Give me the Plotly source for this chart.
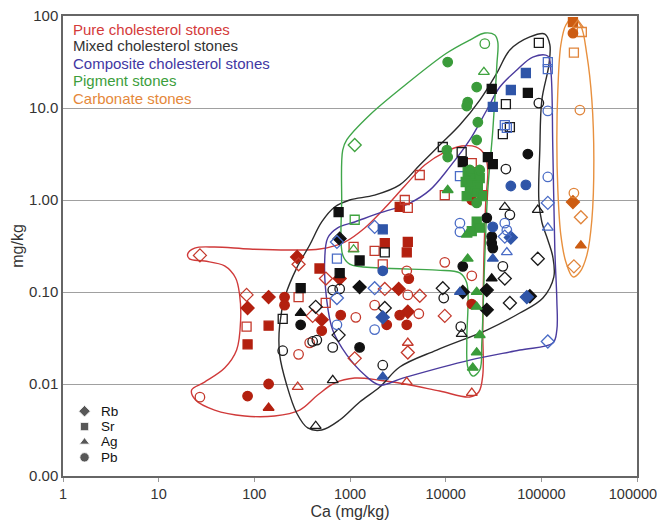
import plotly.graph_objects as go

# ---------------- data ----------------
# Pure cholesterol stones (red)
pure_ca = [27, 280, 290, 1090, 1810, 480, 780, 560, 83, 141, 207, 207, 290, 85, 83, 141, 407, 557, 506, 800,
           1150, 1810, 506, 85, 290, 1120, 379, 141, 284, 27, 85, 141, 5360, 9790, 3740, 4020, 3310, 18750, 18750, 24430,
           2310, 4020, 3920, 2200, 3920, 4115, 2310, 3230, 4020, 5360, 3310, 4020, 3920, 2420, 5240, 9790, 9790, 18750, 18750, 4020,
           4020, 3920, 18750]
pure_val = [0.25, 0.24, 0.20, 0.31, 0.28, 0.18, 0.14, 0.14, 0.093, 0.088, 0.088, 0.072, 0.088, 0.067, 0.042, 0.043, 0.055, 0.076, 0.050, 0.056,
            0.053, 0.072, 0.038, 0.027, 0.021, 0.019, 0.028, 0.010, 0.0093, 0.0072, 0.0074, 0.0055, 1.87, 1.13, 1.0, 0.82, 0.84, 2.52, 1.0, 1.13,
            0.34, 0.35, 0.27, 0.20, 0.17, 0.14, 0.108, 0.108, 0.093, 0.091, 0.056, 0.061, 0.044, 0.044, 0.058, 0.055, 0.21, 0.15, 0.074, 0.028,
            0.022, 0.0105, 0.0080]
pure_el = ["Rb", "Rb", "Rb", "Sr", "Sr", "Sr", "Rb", "Rb", "Rb", "Rb", "Pb", "Pb", "Sr", "Rb", "Sr", "Sr", "Rb", "Sr", "Rb", "Pb",
           "Pb", "Pb", "Pb", "Sr", "Pb", "Rb", "Pb", "Pb", "Ag", "Pb", "Pb", "Ag", "Sr", "Sr", "Sr", "Sr", "Sr", "Sr", "Pb", "Sr",
           "Sr", "Sr", "Sr", "Sr", "Pb", "Pb", "Rb", "Rb", "Pb", "Rb", "Pb", "Rb", "Pb", "Pb", "Pb", "Rb", "Pb", "Pb", "Pb", "Ag",
           "Rb", "Ag", "Ag"]
pure_open = [1, 0, 1, 1, 1, 0, 0, 1, 1, 0, 0, 0, 1, 0, 1, 0, 1, 1, 0, 0,
             1, 1, 0, 0, 1, 1, 1, 0, 1, 1, 0, 0, 1, 1, 1, 1, 0, 1, 0, 1,
             0, 0, 0, 1, 1, 0, 1, 0, 1, 1, 0, 0, 0, 0, 1, 1, 1, 1, 0, 1,
             1, 1, 1]

# Mixed cholesterol stones (black)
mixed_ca = [760, 780, 1260, 780, 305, 1260, 660, 780, 198, 305, 438, 305, 407, 450, 760, 198, 660, 1260, 660, 438,
            2310, 41500, 46900, 91800, 26900, 30300, 30300, 31100, 91800, 15100, 39600, 30300, 41500, 9330, 9550, 15100, 26900, 26900, 46900, 75900,
            14400, 14700, 2200, 2310, 94200, 30300, 72300, 94200, 42600, 46900, 39600, 72300, 42600, 9330, 14700, 15100, 27600, 31100]
mixed_val = [0.74, 0.38, 0.22, 0.16, 0.110, 0.113, 0.105, 0.108, 0.051, 0.059, 0.069, 0.044, 0.029, 0.030, 0.034, 0.023, 0.025, 0.025, 0.011, 0.0035,
             0.27, 0.84, 0.69, 0.78, 0.64, 0.40, 0.34, 0.30, 0.23, 0.19, 0.19, 0.14, 0.14, 0.110, 0.086, 0.10, 0.105, 0.064, 0.076, 0.090,
             0.042, 0.035, 0.016, 0.067, 51, 16.1, 14.6, 11.3, 11.0, 6.2, 5.2, 3.16, 2.17, 3.77, 3.32, 2.59, 2.93, 2.46]
mixed_el = ["Sr", "Rb", "Sr", "Sr", "Sr", "Rb", "Pb", "Pb", "Sr", "Ag", "Rb", "Pb", "Pb", "Pb", "Rb", "Pb", "Pb", "Pb", "Ag", "Ag",
            "Sr", "Ag", "Pb", "Ag", "Pb", "Pb", "Pb", "Pb", "Rb", "Pb", "Pb", "Ag", "Rb", "Rb", "Pb", "Rb", "Rb", "Rb", "Rb", "Rb",
            "Pb", "Ag", "Pb", "Rb", "Sr", "Sr", "Sr", "Pb", "Sr", "Sr", "Sr", "Pb", "Pb", "Sr", "Sr", "Sr", "Sr", "Sr"]
mixed_open = [0, 0, 0, 0, 0, 0, 1, 1, 1, 0, 1, 0, 1, 1, 1, 1, 1, 0, 1, 1,
              1, 1, 1, 1, 0, 0, 0, 0, 1, 0, 1, 0, 1, 1, 1, 0, 0, 0, 1, 0,
              1, 1, 1, 1, 1, 0, 0, 1, 1, 1, 1, 0, 1, 1, 1, 0, 0, 0]

# Composite cholesterol stones (blue)
comp_ca = [730, 730, 1810, 730, 730, 14100, 31100, 14100, 14100, 41500, 43600, 48000, 41500, 2200, 1810, 31100, 43600, 116900, 116900, 14100,
           70500, 2200, 1810, 116900, 2200, 2200, 116900, 116900, 68900, 48000, 31100, 116900, 41500, 43600, 48000, 68900, 116900]
comp_val = [0.35, 0.23, 0.110, 0.086, 0.044, 1.82, 0.51, 0.56, 0.45, 0.56, 0.47, 0.39, 0.40, 0.48, 0.51, 0.23, 0.27, 0.50, 0.93, 0.10,
            0.088, 0.053, 0.039, 0.029, 0.012, 0.17, 31.6, 26.5, 24, 15.7, 10.3, 9.3, 6.5, 6.07, 1.42, 1.46, 1.78]
comp_el = ["Rb", "Sr", "Rb", "Rb", "Pb", "Sr", "Pb", "Pb", "Pb", "Pb", "Pb", "Rb", "Rb", "Sr", "Rb", "Ag", "Ag", "Ag", "Rb", "Ag",
           "Rb", "Rb", "Pb", "Rb", "Ag", "Pb", "Sr", "Sr", "Sr", "Sr", "Sr", "Pb", "Sr", "Sr", "Pb", "Pb", "Pb"]
comp_open = [1, 1, 1, 1, 1, 1, 0, 1, 1, 1, 1, 0, 1, 0, 1, 0, 1, 1, 1, 0,
             0, 0, 1, 1, 0, 0, 1, 1, 0, 0, 0, 1, 1, 1, 0, 0, 1]

# Pigment stones (green)
pig_ca = [1120, 1120, 1090, 25650, 10500, 25100, 21100, 17000, 16600, 21700, 21100, 10300, 10500, 17000, 19700, 22700, 16200, 18750, 21700, 17900,
          20700, 23900, 16600, 17900, 22700, 10500, 21100, 21100, 18750, 22700, 16600, 17000, 21100, 21100, 22700, 21100, 19200]
pig_val = [3.96, 0.61, 0.29, 50, 31.6, 24.6, 16.9, 11.6, 10.5, 7.0, 4.49, 3.49, 2.93, 2.02, 1.87, 1.73, 1.57, 1.49, 1.42, 1.28,
           1.22, 1.10, 1.10, 2.12, 2.12, 1.28, 0.93, 0.58, 0.46, 0.50, 0.42, 0.23, 0.10, 0.069, 0.034, 0.022, 0.015]
pig_el = ["Rb", "Sr", "Ag", "Pb", "Pb", "Ag", "Pb", "Pb", "Pb", "Pb", "Pb", "Pb", "Pb", "Sr", "Sr", "Sr", "Sr", "Sr", "Sr", "Sr",
          "Sr", "Sr", "Sr", "Pb", "Pb", "Ag", "Pb", "Sr", "Sr", "Sr", "Ag", "Ag", "Ag", "Ag", "Ag", "Ag", "Ag"]
pig_open = [1, 1, 1, 1, 0, 1, 0, 0, 0, 0, 0, 0, 0, 0, 0, 0, 0, 0, 0, 0,
            0, 0, 0, 0, 0, 0, 0, 0, 0, 0, 0, 0, 0, 0, 0, 0, 0]

# Carbonate stones (orange)
carb_ca = [214000, 214000, 241000, 265000, 219000, 253000, 219000, 214000, 259000, 259000, 219000]
carb_val = [86, 65, 80, 67, 40, 9.5, 1.19, 0.95, 0.65, 0.32, 0.19]
carb_el = ["Sr", "Pb", "Ag", "Sr", "Sr", "Pb", "Pb", "Rb", "Rb", "Ag", "Rb"]
carb_open = [0, 0, 1, 1, 1, 1, 1, 0, 1, 0, 1]

# Hand-drawn group envelopes (Ca, mg/kg)
pure_env_ca = [20.1, 23.8, 38.4, 89.3, 234, 482, 880, 1426, 2306, 3733, 6040, 9790, 14730, 20650, 25650, 27560, 26300, 25060, 24430, 24430,
               22180, 17860, 8670, 3733, 2046, 1120, 692, 459, 298, 163, 79.2, 38.4, 24.3, 22.1, 30.2, 48.9, 65.3, 71.9, 70.2, 63.7,
               48.9, 30.2, 21.0]
pure_env_val = [0.259, 0.30, 0.308, 0.293, 0.286, 0.293, 0.349, 0.497, 0.818, 1.42, 2.40, 3.32, 3.86, 3.77, 3.08, 2.12, 1.0, 0.223, 0.0386, 0.0125,
                0.00819, 0.00722, 0.00839, 0.010, 0.0110, 0.0116, 0.01025, 0.00759, 0.00521, 0.00449, 0.00449, 0.00521, 0.0067, 0.0086, 0.0105, 0.0149, 0.0234, 0.0497, 0.0927, 0.142,
                0.192, 0.217, 0.229]
mixed_env_ca = [108900, 75860, 46880, 34270, 22740, 14050, 8670, 5360, 3310, 1811, 993, 692, 506, 379, 277, 212, 184, 184, 218, 277,
                361, 506, 781, 1263, 2046, 3310, 8070, 26920, 59570, 103800, 135100, 131900, 116900, 101200, 94190, 96400, 101200, 119900, 122800]
mixed_env_val = [63.7, 59.2, 42.7, 24.0, 12.2, 6.53, 3.96, 2.40, 1.46, 1.13, 1.0, 0.839, 0.577, 0.324, 0.182, 0.0927, 0.0438, 0.0207, 0.00975, 0.00484,
                 0.00333, 0.00316, 0.00406, 0.00637, 0.00927, 0.0153, 0.0234, 0.0386, 0.0591, 0.0861, 0.146, 0.240, 0.367, 0.577, 1.0, 3.49, 12.2, 29.3, 48.4]
comp_env_ca = [116900, 81470, 55460, 36810, 26920, 17860, 11040, 6820, 4217, 2046, 1120, 743, 585, 544, 571, 659, 924, 1426, 2046, 3556,
               17860, 59570, 131900, 145200, 145200, 138400, 131900, 125600]
comp_env_val = [36.7, 35.8, 25.9, 16.9, 9.51, 4.49, 2.29, 1.28, 0.927, 0.723, 0.577, 0.497, 0.386, 0.223, 0.0818, 0.0386, 0.0207, 0.0125, 0.00975, 0.0116,
                0.0182, 0.0234, 0.0279, 0.0386, 0.0818, 0.286, 3.49, 25.9]
pig_env_ca = [32660, 25650, 17860, 10280, 3556, 1607, 924, 839, 819, 839, 993, 2046, 8070, 14050, 16630, 16630, 17020, 19190, 22740, 23860,
              25650, 27560, 31120, 34270, 35080]
pig_env_val = [62.1, 65.3, 54.8, 39.6, 16.9, 8.39, 4.49, 3.49, 1.0, 0.252, 0.201, 0.182, 0.173, 0.161, 0.125, 0.0301, 0.0153, 0.0122, 0.0142, 0.0279,
               0.240, 1.28, 5.77, 29.3, 52.1]
carb_env_ca = [213800, 180400, 159900, 148800, 145200, 148800, 159900, 180400, 213800, 252900, 299300, 337300, 354000, 337300, 299300, 258800]
carb_env_val = [95.1, 79.8, 48.4, 15.7, 4.49, 1.28, 0.417, 0.212, 0.146, 0.165, 0.252, 0.607, 2.72, 12.2, 37.7, 77.8]

group_names = ["Pure cholesterol stones", "Mixed cholesterol stones", "Composite cholesterol stones",
               "Pigment stones", "Carbonate stones"]
elements = ["Rb", "Sr", "Ag", "Pb"]
x_ticks = [1, 10, 100, 1000, 10000, 100000, 1000000]
x_ticktext = ["1", "10", "100", "1000", "10000", "100000", "1000000"]
y_ticks = [0.001, 0.01, 0.1, 1, 10, 100]
y_ticktext = ["0.00", "0.01", "0.10", "1.00", "10.0", "100"]

# ---------------- styling ----------------
FONT = "Liberation Sans, Arial, sans-serif"
SYMBOL = {"Rb": "diamond", "Sr": "square", "Ag": "triangle-up", "Pb": "circle"}
SIZE = {"Rb": 10, "Sr": 9, "Ag": 9.5, "Pb": 9.5}

groups = [
    dict(ca=pure_ca, val=pure_val, el=pure_el, op=pure_open, fill="#b3200f", line="#c4392c",
         eca=pure_env_ca, ev=pure_env_val, ec="#d03a3a", tc="#d43a3a"),
    dict(ca=mixed_ca, val=mixed_val, el=mixed_el, op=mixed_open, fill="#111111", line="#1a1a1a",
         eca=mixed_env_ca, ev=mixed_env_val, ec="#2b2b2b", tc="#333333"),
    dict(ca=comp_ca, val=comp_val, el=comp_el, op=comp_open, fill="#2f55a8", line="#4a6cc6",
         eca=comp_env_ca, ev=comp_env_val, ec="#4b3b9e", tc="#3f37a3"),
    dict(ca=pig_ca, val=pig_val, el=pig_el, op=pig_open, fill="#3a9b3a", line="#3fa33f",
         eca=pig_env_ca, ev=pig_env_val, ec="#40a64a", tc="#3c9e3c"),
    dict(ca=carb_ca, val=carb_val, el=carb_el, op=carb_open, fill="#cc5c12", line="#e0843a",
         eca=carb_env_ca, ev=carb_env_val, ec="#e8903e", tc="#e5883a"),
]

fig = go.Figure()

# envelopes
for g in groups:
    fig.add_trace(go.Scatter(
        x=g["eca"] + g["eca"][:1], y=g["ev"] + g["ev"][:1], mode="lines",
        line=dict(color=g["ec"], width=1.4, shape="spline", smoothing=1.0),
        hoverinfo="skip", showlegend=False))

# points
for g in groups:
    for e in elements:
        for o in (0, 1):
            idx = [i for i in range(len(g["ca"])) if g["el"][i] == e and g["op"][i] == o]
            if not idx:
                continue
            sym = SYMBOL[e] + ("-open" if o else "")
            fig.add_trace(go.Scatter(
                x=[g["ca"][i] for i in idx], y=[g["val"][i] for i in idx], mode="markers",
                marker=dict(symbol=sym, size=SIZE[e],
                            color=(g["line"] if o else g["fill"]),
                            line=dict(width=1.3, color=(g["line"] if o else g["fill"]))),
                showlegend=False))

# symbol key (overlay axes spanning the plot area)
key_y = [0.141, 0.1075, 0.074, 0.0405]
fig.add_trace(go.Scatter(
    x=[0.0375] * 4, y=key_y, mode="markers", xaxis="x2", yaxis="y2",
    marker=dict(symbol=[SYMBOL[e] for e in elements], size=[9, 8.5, 9, 9.5], color="#111111"),
    showlegend=False, hoverinfo="skip"))

annotations = []
for e, yy in zip(elements, key_y):
    annotations.append(dict(x=0.062, y=yy, xref="paper", yref="paper", text=e, showarrow=False,
                            xanchor="left", yanchor="middle", font=dict(family=FONT, size=13.5, color="#111111")))
name_y = [0.9717, 0.9348, 0.8978, 0.8587, 0.8196]
for name, g, yy in zip(group_names, groups, name_y):
    annotations.append(dict(x=0.014, y=yy, xref="paper", yref="paper", text=name, showarrow=False,
                            xanchor="left", yanchor="middle", font=dict(family=FONT, size=15, color=g["tc"])))

# page body has an 8px margin; keep the whole page within the 665x528 window (no scrollbars)
fig.update_layout(
    template="none",
    width=657, height=512,
    margin=dict(l=55, r=28, t=8, b=44),
    plot_bgcolor="white", paper_bgcolor="white",
    showlegend=False,
    font=dict(family=FONT, size=15, color="#333333"),
    annotations=annotations,
    xaxis=dict(type="log", range=[0, 6], tickvals=x_ticks, ticktext=x_ticktext,
               showgrid=False, zeroline=False, showline=True, linecolor="#666666", linewidth=1.5, mirror=True,
               ticks="outside", ticklen=4, tickcolor="#999999", automargin=False, ticklabeloverflow="allow",
               tickfont=dict(family=FONT, size=14.5, color="#333333"),
               title=dict(text="Ca (mg/kg)", font=dict(family=FONT, size=16, color="#333333"), standoff=5)),
    yaxis=dict(type="log", range=[-3, 2], tickvals=y_ticks, ticktext=y_ticktext,
               showgrid=True, gridcolor="#a0a0a0", gridwidth=1.2, zeroline=False,
               showline=True, linecolor="#666666", linewidth=1.5, mirror=True, ticks="", automargin=False,
               ticklabeloverflow="allow",
               tickfont=dict(family=FONT, size=15, color="#333333"),
               title=dict(text="mg/kg", font=dict(family=FONT, size=16, color="#333333"), standoff=1)),
    xaxis2=dict(overlaying="x", range=[0, 1], visible=False, fixedrange=True),
    yaxis2=dict(overlaying="y", range=[0, 1], visible=False, fixedrange=True),
)

fig.write_html("out.html")
